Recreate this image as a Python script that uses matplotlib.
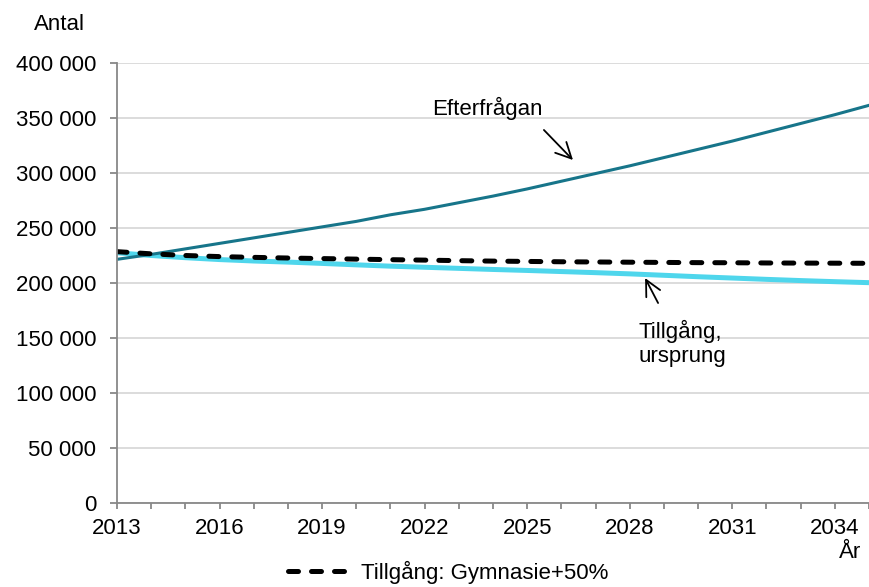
import matplotlib
matplotlib.use("Agg")
import matplotlib.pyplot as plt
from matplotlib.ticker import FuncFormatter, MultipleLocator

plt.rcParams['font.family'] = ['Liberation Sans', 'DejaVu Sans']

# --- data ---
years = list(range(2013, 2036))
efterfragan = [221500, 226000, 231000, 236000, 241000, 246000, 251000, 256000,
               262000, 267000, 273000, 279000, 285500, 292500, 299500, 306500,
               314000, 321500, 329000, 337000, 345000, 353000, 361500]
tillgang_ursprung = [227500, 225000, 223000, 221300, 220000, 219000, 217800, 216500,
                     215300, 214300, 213300, 212300, 211400, 210400, 209400, 208300,
                     207000, 205700, 204500, 203300, 202200, 201200, 200300]
tillgang_gymn = [228500, 226500, 225000, 224000, 223300, 222700, 222200, 221700,
                 221200, 220800, 220300, 219900, 219600, 219300, 219100, 218900,
                 218700, 218500, 218400, 218200, 218100, 218000, 217900]
xtick_years = list(range(2013, 2035, 3))

fig = plt.figure(figsize=(8.69, 5.87), dpi=100)
ax = fig.add_axes([0.1346, 0.1431, 0.8654, 0.7496])

ax.plot(years, tillgang_ursprung, color='#4fd6ec', lw=3.6, solid_capstyle='butt')
ax.plot(years, efterfragan, color='#17758a', lw=2.2)
gym, = ax.plot(years, tillgang_gymn, color='black', lw=3.6, ls=(0, (2.0, 2.6)),
               dash_capstyle='round', label='Tillgång: Gymnasie+50%')

ax.set_xlim(2013, 2035)
ax.set_ylim(0, 400000)
ax.yaxis.set_major_locator(MultipleLocator(50000))
ax.yaxis.set_major_formatter(FuncFormatter(lambda v, p: f"{int(v):,}".replace(",", " ")))
ax.set_xticks(xtick_years)
ax.xaxis.set_minor_locator(MultipleLocator(1))

ax.grid(axis='y', color='#d9d9d9', lw=1.3)
ax.set_axisbelow(True)
for s in ['top', 'right']:
    ax.spines[s].set_visible(False)
for s in ['left', 'bottom']:
    ax.spines[s].set_color('#888888')
    ax.spines[s].set_linewidth(1.3)
ax.tick_params(axis='y', which='both', length=5, width=1.3, color='#888888',
               labelsize=16, pad=10)
ax.tick_params(axis='x', which='both', length=4, width=1.3, color='#888888',
               labelsize=16, pad=7)

fig.text(59 / 869, 1 - 24 / 587, 'Antal', fontsize=16, ha='center', va='center')
fig.text(861 / 869, 1 - 552 / 587, 'År', fontsize=16, ha='right', va='center')

# annotations: labels and arrows
ax.text(2023.85, 358600, 'Efterfrågan', fontsize=16, ha='center', va='center')
ax.annotate('', xy=(2026.34, 311800), xytext=(2025.49, 339100),
            arrowprops=dict(arrowstyle='->', color='black', lw=1.3,
                            shrinkA=0, shrinkB=0, mutation_scale=28))
ax.text(2028.27, 145400, 'Tillgång,\nursprung', fontsize=16, ha='left', va='center',
        linespacing=1.2)
ax.annotate('', xy=(2028.45, 204500), xytext=(2028.83, 181800),
            arrowprops=dict(arrowstyle='->', color='black', lw=1.3,
                            shrinkA=0, shrinkB=0, mutation_scale=28))

fig.legend(handles=[gym], loc='center', bbox_to_anchor=(0.516, 0.0247),
           frameon=False, fontsize=16, handlelength=2.8, handletextpad=0.5,
           borderpad=0, borderaxespad=0)

fig.savefig('out.png', dpi=100)
